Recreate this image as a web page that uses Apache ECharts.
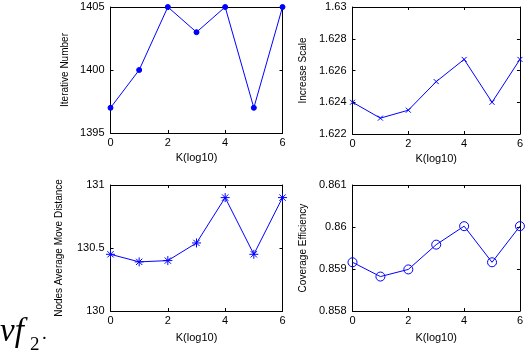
<!DOCTYPE html>
<html>
<head>
<meta charset="utf-8">
<script src="https://cdn.jsdelivr.net/npm/echarts@6/dist/echarts.min.js"></script>
<style>
  html, body { margin: 0; padding: 0; background: #fff; }
  #chart { width: 526px; height: 357px; }
</style>
</head>
<body>
<div id="chart"></div>
<script>
// data
var kValues = [0, 1, 2, 3, 4, 5, 6];
var iterNumber = [1397, 1400, 1405, 1403, 1405, 1397, 1405];
var increaseScale = [1.6240, 1.6230, 1.6235, 1.6253, 1.6267, 1.6240, 1.6267];
var moveDistance = [130.45, 130.39, 130.40, 130.54, 130.90, 130.45, 130.90];
var coverage = [0.85916, 0.85882, 0.85899, 0.85958, 0.86002, 0.85916, 0.86002];

var xTicks = { min: 0, max: 6, interval: 2 };
var blue = '#0000ff';
var panels = [
  { name: 'Iterative Number', data: iterNumber, min: 1395, max: 1405, interval: 5, gap: 40,
    symbol: 'circle', size: 5, xGap: 19, fill: blue },
  { name: 'Increase Scale', data: increaseScale, min: 1.622, max: 1.63, interval: 0.002, gap: 44,
    symbol: 'path://M0,0L10,10M10,0L0,10', size: 5, xGap: 19, fill: blue },
  { name: 'Nodes Average Move Distance', data: moveDistance, min: 130, max: 131, interval: 0.5, gap: 46,
    symbol: 'path://M5,0L5,10M0,5L10,5M1.5,1.5L8.5,8.5M8.5,1.5L1.5,8.5', size: 9, xGap: 21, fill: blue },
  { name: 'Coverage Efficiency', data: coverage, min: 0.858, max: 0.861, interval: 0.001, gap: 44,
    symbol: 'path://M5,0A5,5 0 1,1 5,10A5,5 0 1,1 5,0Z', size: 9, xGap: 21, fill: 'rgba(0,0,0,0)' }
];

var grids = [
  { left: 110.5, top: 7, width: 172, height: 126 },
  { left: 352.5, top: 7, width: 172, height: 127 },
  { left: 110.5, top: 185, width: 172, height: 126 },
  { left: 352.5, top: 185, width: 172, height: 126 }
];

var font = 'Liberation Sans, Arial, sans-serif';
var xAxes = [], yAxes = [], series = [];

function plain(v) {
  return String(+v.toFixed(4));
}

panels.forEach(function (p, i) {
  var line = { show: true, onZero: false, lineStyle: { color: '#000', width: 1 } };
  var tick = { show: true, inside: true, length: 3, lineStyle: { color: '#000' } };
  // bottom + top x axes
  xAxes.push({
    type: 'value', gridIndex: i, position: 'bottom',
    min: xTicks.min, max: xTicks.max, interval: xTicks.interval,
    name: 'K(log10)', nameLocation: 'middle', nameGap: p.xGap,
    nameTextStyle: { color: '#000', fontSize: 11, fontFamily: font },
    axisLine: line, axisTick: tick, splitLine: { show: false },
    axisLabel: { color: '#000', fontSize: 11, fontFamily: font, margin: 4 }
  });
  xAxes.push({
    type: 'value', gridIndex: i, position: 'top',
    min: xTicks.min, max: xTicks.max, interval: xTicks.interval,
    axisLine: line, axisTick: tick, splitLine: { show: false },
    axisLabel: { show: false }
  });
  // left + right y axes
  yAxes.push({
    type: 'value', gridIndex: i, position: 'left',
    min: p.min, max: p.max, interval: p.interval,
    name: p.name, nameLocation: 'middle', nameGap: p.gap,
    nameTextStyle: { color: '#000', fontSize: 10, fontFamily: font },
    axisLine: line, axisTick: tick, splitLine: { show: false },
    axisLabel: { color: '#000', fontSize: 11, fontFamily: font, margin: 6, formatter: plain }
  });
  yAxes.push({
    type: 'value', gridIndex: i, position: 'right',
    min: p.min, max: p.max, interval: p.interval,
    axisLine: line, axisTick: tick, splitLine: { show: false },
    axisLabel: { show: false }
  });
  series.push({
    type: 'line',
    xAxisIndex: i * 2, yAxisIndex: i * 2,
    data: kValues.map(function (k, j) { return [k, p.data[j]]; }),
    symbol: p.symbol, symbolSize: p.size, showAllSymbol: true,
    lineStyle: { color: blue, width: 1 },
    itemStyle: { color: p.fill, borderColor: blue, borderWidth: 1 },
    emphasis: { disabled: true },
    animation: false
  });
});

var chart = echarts.init(document.getElementById('chart'), null, { renderer: 'canvas' });
chart.setOption({
  backgroundColor: '#fff',
  animation: false,
  grid: grids,
  xAxis: xAxes,
  yAxis: yAxes,
  series: series,
  graphic: [
    { type: 'text', left: 0, top: 316,
      style: { text: 'vf', font: 'italic 33px "Liberation Serif", "DejaVu Serif", serif', fill: '#000' } },
    { type: 'text', left: 30, top: 336,
      style: { text: '2', font: '19px "Liberation Serif", "DejaVu Serif", serif', fill: '#000' } },
    { type: 'text', left: 42, top: 325,
      style: { text: '.', font: '19px "Liberation Serif", "DejaVu Serif", serif', fill: '#000' } }
  ]
});
</script>
</body>
</html>
